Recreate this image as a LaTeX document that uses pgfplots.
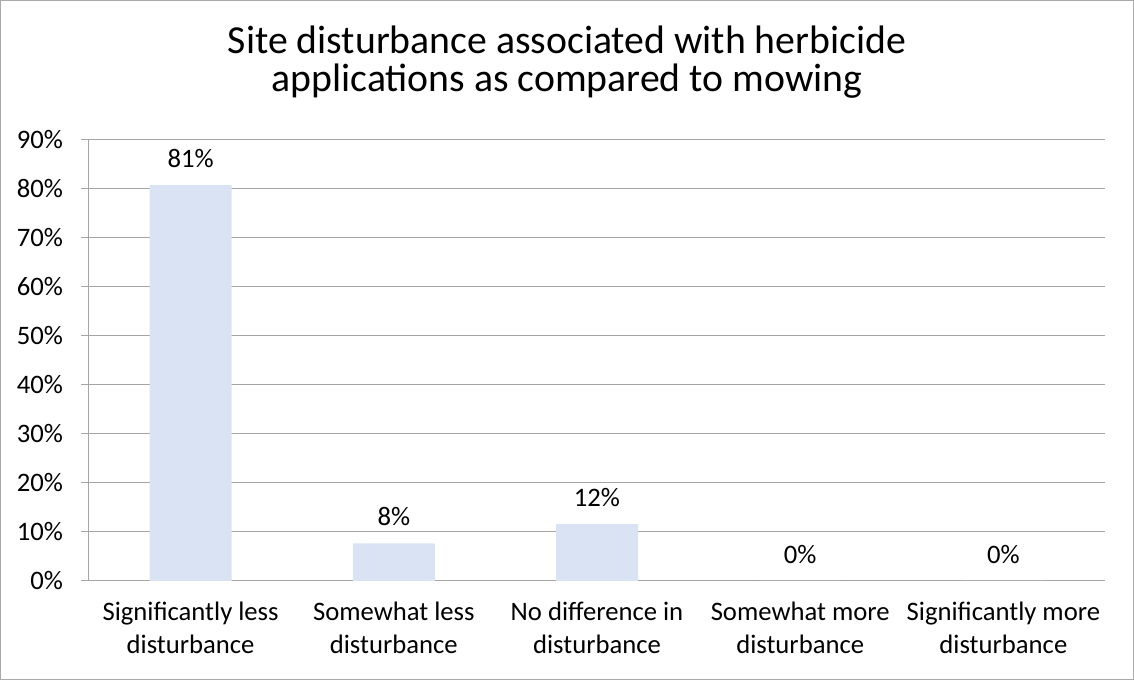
\documentclass[border=0pt]{standalone}
\usepackage{pgfplots}
\pgfplotsset{compat=1.18}
\usepackage{fontspec}
\setmainfont{Carlito}
\definecolor{barc}{HTML}{DAE3F3}
\definecolor{gridc}{RGB}{165,165,165}
\begin{document}
\begin{tikzpicture}[x=1pt,y=1pt]
\useasboundingbox (-66.75,-74.25) rectangle (783.75,435.75);
\draw[color={rgb,255:red,170;green,170;blue,170},line width=1pt] (-66.25,-73.75) rectangle (783.25,435.25);
\begin{axis}[
  at={(0,0)}, anchor=south west,
  scale only axis, width=762pt, height=330.75pt,
  xmin=-0.5, xmax=4.5, ymin=0, ymax=90,
  ytick={0,10,...,90},
  yticklabel={\pgfmathprintnumber{\tick}\%},
  /pgf/number format/assume math mode=true,
  xtick={0,1,2,3,4},
  xticklabels={{Significantly less\\disturbance},{Somewhat less\\disturbance},{No difference in\\disturbance},{Somewhat more\\disturbance},{Significantly more\\disturbance}},
  xticklabel style={align=center, font=\fontsize{20}{24.75}\selectfont, yshift=-6.5pt},
  yticklabel style={font=\fontsize{20}{24}\selectfont, xshift=-10pt},
  major x tick style={draw=none},
  extra x ticks={-0.5,0.5,1.5,2.5,3.5,4.5},
  extra x tick labels={},
  extra x tick style={grid=none, major tick length=6pt, tick style={draw=gridc, line width=0.75pt}, tick align=outside},
  ymajorgrids, grid style={draw=gridc, line width=0.75pt},
  y tick style={draw=gridc, line width=0.75pt},
  tick align=outside, major tick length=6pt,
  ytick pos=left, xtick pos=bottom,
  axis x line*=bottom, axis y line*=left,
  axis line style={draw=gridc, line width=0.75pt, -},
  ybar, bar width=61.5pt,
  nodes near coords={\pgfmathprintnumber[fixed,precision=0]{\pgfplotspointmeta}\%},
  nodes near coords style={font=\fontsize{20}{24}\selectfont, yshift=9.5pt},
  every node near coord/.append style={/pgf/number format/assume math mode=true},
]
\addplot[fill=barc, draw=none] coordinates {(0,80.8) (1,7.7) (2,11.6) (3,0) (4,0)};
\end{axis}
\node[align=center, font=\fontsize{29.8}{28.5}\selectfont] at (358.5,389) {Site disturbance associated with herbicide\\applications as compared to mowing};
\end{tikzpicture}
\end{document}
